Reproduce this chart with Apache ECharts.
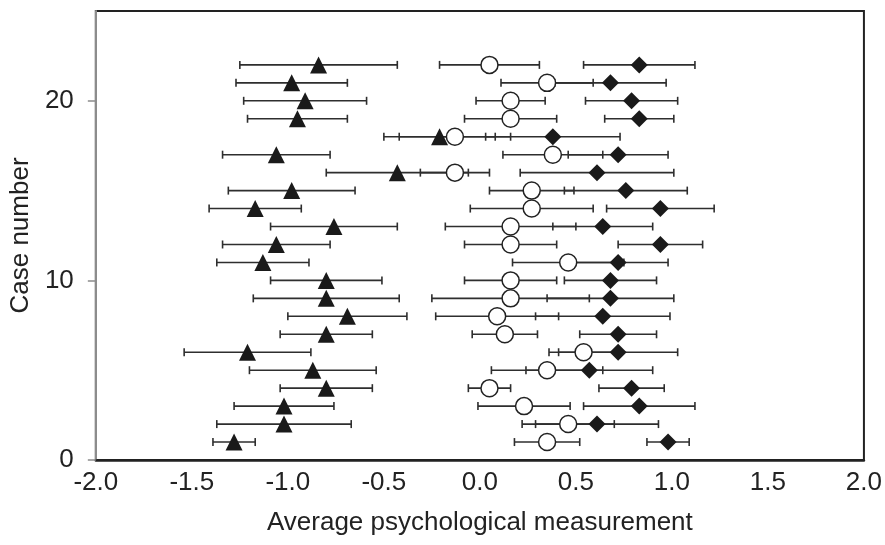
<!DOCTYPE html>
<html>
<head>
<meta charset="utf-8">
<script src="https://cdn.jsdelivr.net/npm/echarts@6/dist/echarts.min.js"></script>
<style>
html,body{margin:0;padding:0;background:#fff;}
#chart{width:885px;height:545px;}
</style>
</head>
<body>
<div id="chart"></div>
<script>
// Case numbers (y axis)
var cases = [1,2,3,4,5,6,7,8,9,10,11,12,13,14,15,16,17,18,19,20,21,22];
// Triangle series: mean and half-width of error bar
var triMean = [-1.28,-1.02,-1.02,-0.80,-0.87,-1.21,-0.80,-0.69,-0.80,-0.80,-1.13,-1.06,-0.76,-1.17,-0.98,-0.43,-1.06,-0.21,-0.95,-0.91,-0.98,-0.84];
var triErr  = [0.11,0.35,0.26,0.24,0.33,0.33,0.24,0.31,0.38,0.29,0.24,0.28,0.33,0.24,0.33,0.37,0.28,0.29,0.26,0.32,0.29,0.41];
// Circle series
var circMean = [0.35,0.46,0.23,0.05,0.35,0.54,0.13,0.09,0.16,0.16,0.46,0.16,0.16,0.27,0.27,-0.13,0.38,-0.13,0.16,0.16,0.35,0.05];
var circErr  = [0.17,0.24,0.24,0.11,0.29,0.18,0.17,0.32,0.41,0.24,0.29,0.24,0.34,0.32,0.22,0.18,0.26,0.29,0.24,0.18,0.24,0.26];
// Diamond series
var diaMean = [0.98,0.61,0.83,0.79,0.57,0.72,0.72,0.64,0.68,0.68,0.72,0.94,0.64,0.94,0.76,0.61,0.72,0.38,0.83,0.79,0.68,0.83];
var diaErr  = [0.11,0.32,0.29,0.17,0.33,0.31,0.20,0.35,0.33,0.24,0.26,0.22,0.26,0.28,0.32,0.40,0.26,0.35,0.18,0.24,0.29,0.29];
// Axis ticks
var xTicks = [-2.0,-1.5,-1.0,-0.5,0.0,0.5,1.0,1.5,2.0];
var yTicks = [0,10,20];
var xName = 'Average psychological measurement';
var yName = 'Case number';

var FONT = '"Liberation Sans", Arial, Helvetica, sans-serif';

function pts(mean){ return cases.map(function(c,i){ return [mean[i], c]; }); }
function errPts(mean, err){ return cases.map(function(c,i){ return [mean[i], c, err[i]]; }); }

function renderErr(params, api){
  var m = api.value(0), y = api.value(1), e = api.value(2);
  var lo = api.coord([m - e, y]);
  var hi = api.coord([m + e, y]);
  var h = 4;
  var style = {stroke:'#2e2e2e', lineWidth:1.6};
  return {
    type:'group',
    children:[
      {type:'line', shape:{x1:lo[0],y1:lo[1],x2:hi[0],y2:hi[1]}, style:style},
      {type:'line', shape:{x1:lo[0],y1:lo[1]-h,x2:lo[0],y2:lo[1]+h}, style:style},
      {type:'line', shape:{x1:hi[0],y1:hi[1]-h,x2:hi[0],y2:hi[1]+h}, style:style}
    ]
  };
}

var chart = echarts.init(document.getElementById('chart'), null, {renderer:'canvas'});
chart.setOption({
  animation:false,
  backgroundColor:'#fff',
  grid:{left:95, right:20, top:11, bottom:85, show:true, borderColor:'#222', borderWidth:2, backgroundColor:'transparent'},
  xAxis:{
    type:'value', min:xTicks[0], max:xTicks[xTicks.length-1], interval:0.5,
    name:xName, nameLocation:'middle', nameGap:50,
    nameTextStyle:{fontFamily:FONT, fontSize:26, color:'#222'},
    axisLine:{show:true, onZero:false, lineStyle:{color:'#222', width:2.5}},
    axisTick:{show:false},
    splitLine:{show:false},
    axisLabel:{fontFamily:FONT, fontSize:26, color:'#222', margin:10,
      formatter:function(v){ return xTicks.indexOf(v) >= 0 ? v.toFixed(1) : ''; }}
  },
  yAxis:{
    type:'value', min:0, max:25, interval:10,
    name:yName, nameLocation:'middle', nameGap:59,
    nameTextStyle:{fontFamily:FONT, fontSize:26, color:'#222'},
    axisLine:{show:true, onZero:false, lineStyle:{color:'#8c8c8c', width:2}},
    axisTick:{show:true, length:8, customValues:yTicks, lineStyle:{color:'#8c8c8c', width:1.5}},
    splitLine:{show:false},
    axisLabel:{fontFamily:FONT, fontSize:26, color:'#222', margin:22, customValues:yTicks,
      formatter:function(v){ return yTicks.indexOf(v) >= 0 ? String(v) : ''; }}
  },
  series:[
    {type:'custom', renderItem:renderErr, data:errPts(triMean,triErr), z:2, encode:{x:0,y:1}},
    {type:'custom', renderItem:renderErr, data:errPts(circMean,circErr), z:2, encode:{x:0,y:1}},
    {type:'custom', renderItem:renderErr, data:errPts(diaMean,diaErr), z:2, encode:{x:0,y:1}},
    {type:'scatter', data:pts(triMean), symbol:'triangle', symbolSize:[17,17], z:3,
      itemStyle:{color:'#1a1a1a', opacity:1}},
    {type:'scatter', data:pts(circMean), symbol:'circle', symbolSize:17, z:4,
      itemStyle:{color:'#ffffff', borderColor:'#222', borderWidth:1.5, opacity:1}},
    {type:'scatter', data:pts(diaMean), symbol:'diamond', symbolSize:[17,17], z:5,
      itemStyle:{color:'#1a1a1a', opacity:1}}
  ]
});
</script>
</body>
</html>
